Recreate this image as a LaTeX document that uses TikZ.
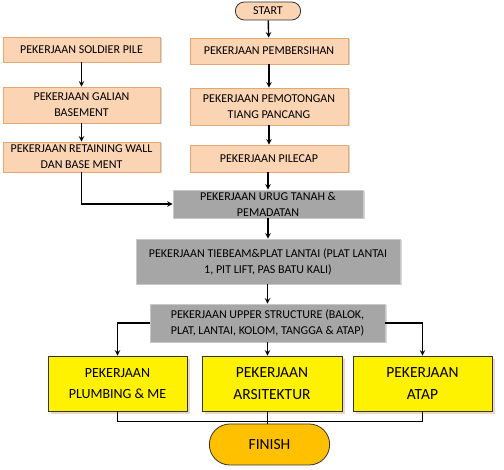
\documentclass[tikz,border=0pt]{standalone}
\usepackage{fontspec}
\setmainfont{Carlito}
\usetikzlibrary{shapes,shadows,positioning}
\definecolor{peach}{HTML}{FBD4B4}
\definecolor{peachline}{HTML}{E3A774}
\definecolor{greybox}{HTML}{A6A6A6}
\definecolor{greyline}{HTML}{C8C8C8}
\definecolor{tan}{HTML}{D9B08C}
\definecolor{amber}{HTML}{FFC000}
\tikzstyle{task}=[draw=peachline,fill=peach,thick,align=center,inner sep=1pt,
  font=\fontsize{12}{16}\selectfont,
  drop shadow={fill=black!30,shadow xshift=1.5pt,shadow yshift=-1.5pt}]
\tikzstyle{grey}=[task,draw=greyline,fill=greybox]
\tikzstyle{final}=[draw=black!80,fill=yellow,thick,align=center,inner sep=1pt,
  minimum width=139pt,minimum height=55pt,font=\fontsize{15.5}{22}\selectfont,
  drop shadow={fill=tan,shadow xshift=3pt,shadow yshift=-3pt}]
\tikzstyle{term}=[draw=black!80,thick,rounded rectangle,align=center]
\tikzstyle{flow}=[->,line width=1.4pt]
\tikzstyle{merge}=[line width=1.4pt]

\begin{document}
\begin{tikzpicture}[>=stealth, x=1pt, y=-1pt]
  \useasboundingbox (0,0) rectangle (504,470);

  % start and the two columns
  \node[term, fill=peach, minimum width=72pt, minimum height=18pt,
    font=\fontsize{12}{14}\selectfont]             (start) at (268,11) {START};
  \node[task, minimum width=157pt, minimum height=25pt] (soldier) at (81.5,49.5) {PEKERJAAN SOLDIER PILE};
  \node[task, minimum width=157pt, minimum height=36pt] (galian)  at (81.5,105) {PEKERJAAN GALIAN\\BASEMENT};
  \node[task, minimum width=157pt, minimum height=30pt] (wall)    at (81.5,157) {PEKERJAAN RETAINING WALL\\DAN BASE MENT};
  \node[task, minimum width=158pt, minimum height=26pt] (bersih)  at (269,51) {PEKERJAAN PEMBERSIHAN};
  \node[task, minimum width=158pt, minimum height=37pt] (potong)  at (269,106.5) {PEKERJAAN PEMOTONGAN\\TIANG PANCANG};
  \node[task, minimum width=158pt, minimum height=27pt] (pilecap) at (269,158.5) {PEKERJAAN PILECAP};

  % grey middle part
  \node[grey, minimum width=190pt, minimum height=28pt] (urug)  at (268,204) {PEKERJAAN URUG TANAH \&\\PEMADATAN};
  \node[grey, minimum width=264pt, minimum height=45pt] (tie)   at (268,261.5) {PEKERJAAN TIEBEAM\&PLAT LANTAI (PLAT LANTAI\\1, PIT LIFT, PAS BATU KALI)};
  \node[grey, minimum width=235pt, minimum height=38pt] (upper) at (267.5,323) {PEKERJAAN UPPER STRUCTURE (BALOK,\\PLAT, LANTAI, KOLOM, TANGGA \& ATAP)};

  % last tasks
  \node[final, font=\fontsize{14}{21}\selectfont] (plumb) at (117.5,383.5) {PEKERJAAN\\PLUMBING \& ME};
  \node[final, minimum width=140pt]               (arsi)  at (272,383.5) {PEKERJAAN\\ARSITEKTUR};
  \node[final]                                    (atap)  at (422.5,383.5) {PEKERJAAN\\ATAP};
  \node[term, fill=amber, minimum width=127pt, minimum height=41pt,
    font=\fontsize{15.5}{18}\selectfont]           (finish) at (269.5,444.5) {FINISH};

  \draw[flow] (start) -- (bersih);
  \draw[flow] (bersih) -- (potong);
  \draw[flow] (potong) -- (pilecap);
  \draw[flow] (pilecap.south -| urug) -- (urug);
  \draw[flow] (soldier) -- (galian);
  \draw[flow] (galian) -- (wall);
  \draw[flow] (wall) |- (urug);
  \draw[flow] (urug) -- (tie);
  \draw[flow] (tie.south -| upper) -- (upper);

  \draw[flow] (upper.south) -- (upper.south |- arsi.north);
  \draw[flow] (upper.west) -- (upper.west -| plumb) -- (plumb.north);
  \draw[flow] (upper.east) -- (upper.east -| atap) -- (atap.north);
  \draw[merge] (plumb.south) -- ++(0,10) -| (atap.south);
  \draw[merge] (arsi.south -| upper.south) -- (upper.south |- finish.north);
\end{tikzpicture}
\end{document}
